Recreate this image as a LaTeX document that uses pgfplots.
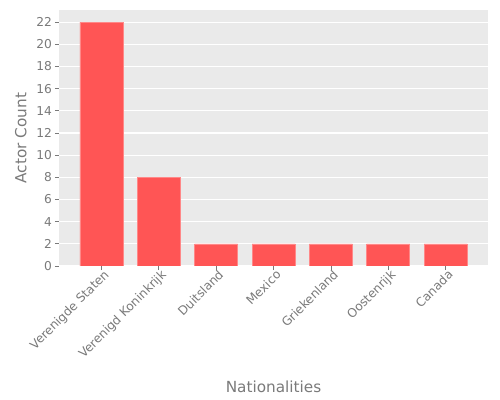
\documentclass[border=0pt]{standalone}
\usepackage{pgfplots}
\pgfplotsset{compat=1.18}
\usepackage{fontspec}
\setmainfont{DejaVu Sans}
\definecolor{barred}{HTML}{FF5555}
\definecolor{bgray}{HTML}{EAEAEA}
\definecolor{tgray}{HTML}{7A7A7A}
\begin{document}
\begin{tikzpicture}
\useasboundingbox (0,0) rectangle (360pt,288pt);
\begin{axis}[
  at={(42.5pt,96.5pt)}, anchor=south west,
  scale only axis, width=308.9pt, height=184.3pt,
  xmin=-0.74, xmax=6.74, ymin=0, ymax=23.1,
  axis background/.style={fill=bgray},
  axis line style={draw=none},
  ybar, bar width=0.75, bar shift=0pt,
  xtick={0,...,6},
  xticklabels={Verenigde Staten,Verenigd Koninkrijk,Duitsland,Mexico,Griekenland,Oostenrijk,Canada},
  ytick={0,2,...,22},
  ymajorgrids, grid style={white, line width=0.8pt},
  tick style={tgray, line width=0.5pt},
  major tick length=3pt,
  tick align=outside, xtick pos=bottom, ytick pos=left,
  /pgf/number format/assume math mode=true,
  ticklabel style={font=\fontsize{8.8}{10}\selectfont, text=tgray},
  xticklabel style={rotate=45, anchor=north east, inner sep=1pt, xshift=2.5pt, yshift=1pt},
  yticklabel style={inner sep=2pt},
  xlabel={Nationalities}, ylabel={Actor Count},
  label style={font=\fontsize{11}{13}\selectfont, text=tgray},
  every axis x label/.append style={at={(154.45pt,-87pt)}, anchor=center},
  every axis y label/.append style={at={(-27.5pt,92.15pt)}, anchor=center, rotate=0},
]
\addplot[fill=barred, draw=barred!70!white, line width=0.4pt] coordinates {(0,22) (1,8) (2,2) (3,2) (4,2) (5,2) (6,2)};
\end{axis}
\end{tikzpicture}
\end{document}
